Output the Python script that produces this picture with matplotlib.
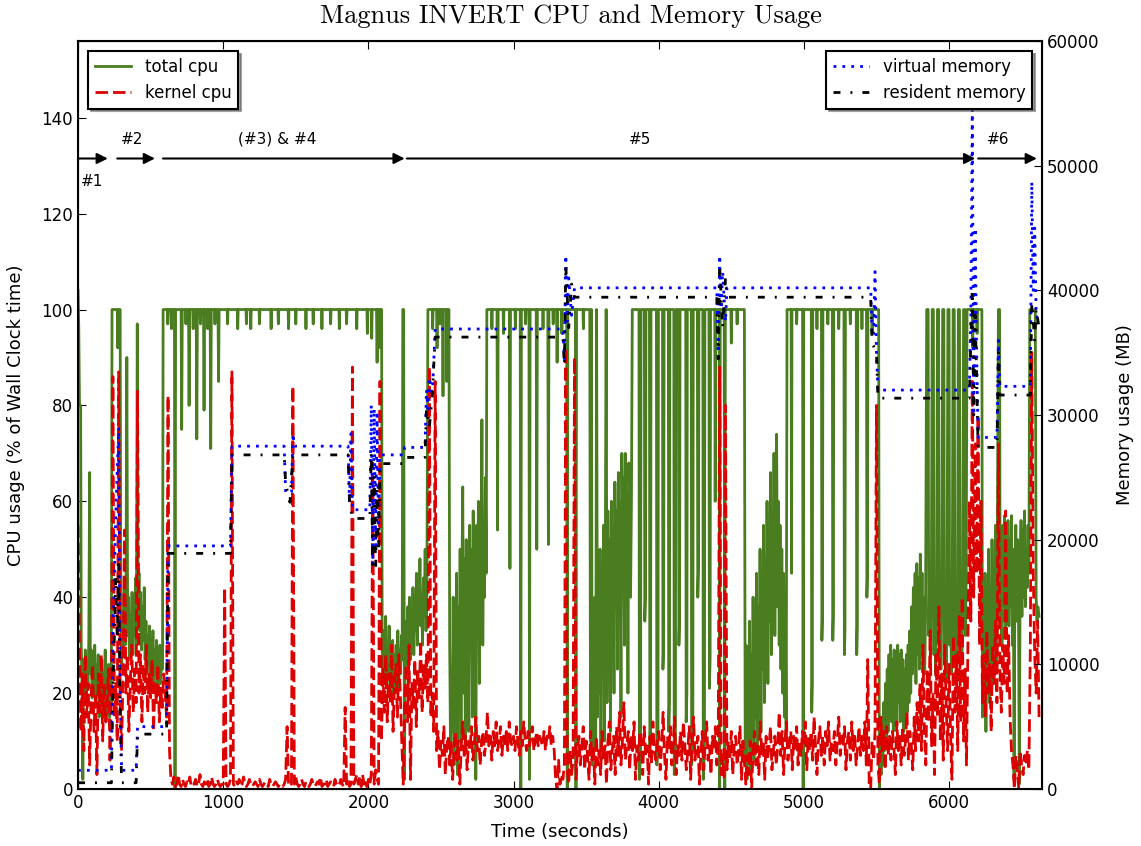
import numpy as np
import matplotlib
matplotlib.use("Agg")
import matplotlib.pyplot as plt

# ---------------------- total cpu: (time s, % of wall clock) ---------------------- #

total_cpu_pts = [
    (0, 104), (5, 96), (10, 80), (18, 80), (22, 30), (28, 22), (33, 2), (38, 27), (44, 20),
    (50, 29), (56, 18), (62, 26), (68, 21), (74, 31), (80, 66), (85, 24), (91, 29), (97, 19),
    (103, 27), (109, 22), (115, 30), (121, 17), (127, 26), (133, 21), (139, 28), (145, 15),
    (151, 25), (157, 19), (163, 27), (169, 16), (175, 24), (181, 20), (187, 29), (193, 14),
    (199, 23), (205, 18), (211, 26), (217, 15), (223, 22), (229, 18),
    (234, 100), (270, 100), (274, 92), (278, 100), (290, 100), (294, 45), (300, 25), (306, 33),
    (312, 28), (318, 42), (324, 30), (330, 38), (336, 90), (342, 32), (348, 40), (354, 27),
    (360, 36), (366, 30), (372, 41), (378, 28), (384, 37), (390, 32), (396, 44), (402, 30),
    (408, 97), (414, 36), (420, 45), (426, 33), (432, 41), (438, 29), (444, 38), (450, 31),
    (456, 42), (462, 27), (468, 35), (474, 24), (480, 32), (486, 26), (492, 34), (498, 22),
    (504, 30), (510, 25), (516, 33), (522, 21), (528, 29), (534, 24), (540, 31), (546, 20),
    (552, 28), (558, 23), (564, 30), (570, 22), (576, 29), (582, 25),
    (586, 100), (615, 100), (618, 97), (621, 100), (640, 100), (643, 96), (646, 100),
    (664, 100), (668, 0), (672, 100), (710, 100), (714, 75), (718, 100), (740, 100),
    (743, 97), (746, 100), (761, 100), (765, 80), (769, 100), (790, 100), (793, 96),
    (796, 100), (814, 100), (818, 73), (822, 100), (840, 100), (843, 97), (846, 100),
    (864, 100), (868, 79), (872, 100), (890, 100), (893, 96), (896, 100), (910, 100),
    (914, 71), (918, 100), (940, 100), (943, 97), (946, 100), (964, 100), (968, 85), (972, 100),
    (1027, 100), (1030, 97), (1033, 100), (1097, 100), (1100, 96), (1103, 100), (1157, 100),
    (1160, 97), (1163, 100), (1187, 100), (1190, 96), (1193, 100), (1247, 100), (1250, 97),
    (1253, 100), (1327, 100), (1330, 96), (1333, 100), (1377, 100), (1380, 97), (1383, 100),
    (1447, 100), (1450, 96), (1453, 100), (1497, 100), (1500, 97), (1503, 100), (1567, 100),
    (1570, 96), (1573, 100), (1617, 100), (1620, 97), (1623, 100), (1677, 100), (1680, 96),
    (1683, 100), (1737, 100), (1740, 97), (1743, 100), (1797, 100), (1800, 96), (1803, 100),
    (1847, 100), (1850, 97), (1853, 100), (1917, 100), (1920, 96), (1923, 100),
    (1990, 100), (1993, 95), (1996, 100), (2020, 100), (2023, 94), (2026, 100), (2056, 100),
    (2060, 89), (2064, 100), (2078, 100), (2082, 92), (2086, 100), (2091, 100),
    (2095, 30), (2101, 22), (2107, 33), (2113, 25), (2119, 36), (2125, 21), (2131, 29),
    (2137, 24), (2143, 34), (2149, 20), (2155, 27), (2161, 23), (2167, 31), (2173, 19),
    (2179, 28), (2185, 22), (2191, 30), (2197, 26), (2203, 33), (2209, 21), (2215, 29),
    (2221, 24), (2227, 32), (2233, 27), (2237, 100), (2243, 100), (2248, 2), (2253, 28),
    (2259, 35), (2265, 26), (2271, 38), (2277, 29), (2283, 40), (2289, 27), (2295, 36),
    (2301, 31), (2307, 42), (2313, 28), (2319, 39), (2325, 33), (2331, 45), (2337, 30),
    (2343, 41), (2349, 35), (2355, 48), (2361, 34), (2367, 40), (2373, 30), (2379, 44),
    (2385, 36), (2391, 50), (2397, 33), (2403, 41),
    (2410, 100), (2440, 100), (2443, 96), (2446, 100), (2470, 100), (2473, 92), (2476, 100),
    (2490, 100), (2493, 97), (2496, 100), (2511, 100), (2514, 82), (2517, 100), (2537, 100),
    (2540, 85), (2543, 100), (2555, 100),
    (2560, 30), (2566, 8), (2572, 25), (2578, 12), (2584, 40), (2590, 5), (2596, 32),
    (2602, 15), (2608, 45), (2614, 3), (2620, 38), (2626, 18), (2632, 50), (2638, 10),
    (2644, 42), (2650, 63), (2656, 20), (2662, 48), (2668, 8), (2674, 52), (2680, 25),
    (2686, 44), (2692, 12), (2698, 55), (2704, 30), (2710, 50), (2716, 15), (2722, 58),
    (2728, 28), (2734, 46), (2740, 2), (2746, 55), (2752, 35), (2758, 60), (2764, 22),
    (2770, 50), (2776, 38), (2782, 77), (2788, 30), (2794, 55), (2800, 40), (2806, 65),
    (2812, 45),
    (2816, 100), (2848, 100), (2851, 96), (2854, 100), (2886, 100), (2890, 54), (2894, 100),
    (2928, 100), (2931, 95), (2934, 100), (2971, 100), (2975, 46), (2979, 100), (3010, 100),
    (3013, 96), (3016, 100), (3046, 100), (3050, 0), (3054, 100), (3080, 100), (3083, 97),
    (3086, 100), (3106, 100), (3110, 2), (3114, 100), (3156, 100), (3160, 50), (3164, 100),
    (3200, 100), (3203, 96), (3206, 100), (3236, 100), (3240, 51), (3244, 100), (3270, 100),
    (3273, 97), (3276, 100), (3296, 100), (3300, 89), (3304, 100), (3330, 100), (3333, 95),
    (3336, 100), (3366, 100), (3370, 0), (3374, 100), (3426, 100), (3430, 0), (3434, 100),
    (3478, 100), (3481, 96), (3484, 100), (3525, 100),
    (3530, 10), (3536, 100), (3542, 5), (3548, 30), (3554, 12), (3560, 40), (3566, 8),
    (3572, 100), (3578, 15), (3584, 45), (3590, 20), (3596, 50), (3602, 6), (3608, 42),
    (3614, 25), (3620, 55), (3626, 10), (3632, 48), (3638, 100), (3644, 18), (3650, 58),
    (3656, 30), (3662, 52), (3668, 12), (3674, 60), (3680, 35), (3686, 55), (3692, 20),
    (3698, 64), (3704, 40), (3710, 58), (3716, 25), (3722, 66), (3728, 45), (3734, 60),
    (3740, 15), (3746, 70), (3752, 50), (3758, 65), (3764, 30), (3770, 70), (3776, 48),
    (3782, 62), (3788, 20), (3794, 68), (3800, 55), (3806, 40), (3812, 60),
    (3818, 100), (3864, 100), (3867, 2), (3875, 8), (3878, 100), (3901, 100), (3904, 35),
    (3909, 40), (3912, 100), (3936, 100), (3939, 8), (3944, 14), (3947, 100), (3984, 100),
    (3987, 5), (3995, 10), (3998, 100), (4026, 100), (4029, 25), (4034, 30), (4037, 100),
    (4066, 100), (4069, 12), (4074, 18), (4077, 100), (4104, 100), (4107, 3), (4115, 9),
    (4118, 100), (4136, 100), (4139, 30), (4144, 36), (4147, 100), (4186, 100), (4189, 14),
    (4194, 20), (4197, 100), (4224, 100), (4227, 5), (4235, 11), (4238, 100), (4266, 100),
    (4269, 40), (4274, 46), (4277, 100), (4304, 100), (4307, 2), (4315, 8), (4318, 100),
    (4346, 100), (4349, 21), (4354, 27), (4357, 100), (4386, 100), (4389, 60), (4392, 100),
    (4416, 100), (4420, 0), (4424, 100), (4451, 100), (4455, 0), (4459, 100), (4497, 100),
    (4500, 93), (4503, 100), (4537, 100), (4540, 97), (4543, 100), (4590, 100),
    (4596, 5), (4602, 30), (4608, 2), (4614, 25), (4620, 10), (4626, 35), (4632, 4),
    (4638, 28), (4644, 12), (4650, 40), (4656, 6), (4662, 33), (4668, 15), (4674, 45),
    (4680, 8), (4686, 38), (4692, 20), (4698, 50), (4704, 12), (4710, 44), (4716, 25),
    (4722, 55), (4728, 18), (4734, 48), (4740, 30), (4746, 60), (4752, 22), (4758, 52),
    (4764, 35), (4770, 66), (4776, 28), (4782, 58), (4788, 40), (4794, 70), (4800, 32),
    (4806, 62), (4812, 74), (4818, 38), (4824, 60), (4830, 30), (4836, 55), (4842, 25),
    (4848, 50), (4854, 20), (4860, 45), (4866, 15), (4872, 40), (4878, 10),
    (4884, 100), (4912, 100), (4915, 45), (4918, 100), (4947, 100), (4950, 97), (4953, 100),
    (4991, 100), (4995, 0), (4999, 100), (5051, 100), (5054, 16), (5058, 22), (5061, 100),
    (5087, 100), (5090, 96), (5093, 100), (5121, 100), (5124, 31), (5128, 36), (5131, 100),
    (5162, 100), (5165, 97), (5168, 100), (5196, 100), (5199, 31), (5203, 36), (5206, 100),
    (5237, 100), (5240, 96), (5243, 100), (5276, 100), (5279, 28), (5283, 33), (5286, 100),
    (5317, 100), (5320, 97), (5323, 100), (5361, 100), (5364, 28), (5368, 34), (5371, 100),
    (5397, 100), (5400, 96), (5403, 100), (5431, 100), (5434, 40), (5438, 45), (5441, 100),
    (5467, 100), (5470, 95), (5473, 100), (5515, 100),
    (5520, 0), (5526, 8), (5532, 3), (5538, 14), (5544, 5), (5550, 18), (5556, 8), (5562, 22),
    (5568, 10), (5574, 25), (5580, 12), (5586, 28), (5592, 15), (5598, 30), (5604, 14),
    (5610, 27), (5616, 12), (5622, 29), (5628, 16), (5634, 26), (5640, 13), (5646, 30),
    (5652, 18), (5658, 28), (5664, 14), (5670, 29), (5676, 17), (5682, 27), (5688, 12),
    (5694, 25), (5700, 14), (5706, 28), (5712, 16), (5718, 30), (5724, 18), (5730, 33),
    (5736, 20), (5742, 38), (5748, 24), (5754, 42), (5760, 26), (5766, 45), (5772, 22),
    (5778, 47), (5784, 28), (5790, 44), (5796, 25), (5802, 49), (5808, 30), (5814, 45),
    (5820, 27), (5826, 40), (5832, 24), (5838, 36),
    (5846, 100), (5856, 100), (5860, 32), (5866, 44), (5872, 26), (5878, 40), (5884, 100),
    (5892, 100), (5896, 28), (5902, 42), (5908, 24), (5914, 38), (5920, 100), (5928, 100),
    (5932, 30), (5938, 45), (5944, 25), (5950, 40), (5956, 100), (5964, 100), (5968, 26),
    (5974, 42), (5980, 22), (5986, 38), (5992, 100), (6000, 100), (6004, 30), (6010, 44),
    (6016, 24), (6022, 40), (6028, 100), (6036, 100), (6040, 28), (6046, 42), (6052, 25),
    (6058, 38), (6064, 100), (6072, 100), (6076, 30), (6082, 45), (6088, 26), (6094, 40),
    (6100, 100), (6108, 100), (6112, 32), (6118, 44), (6124, 100), (6160, 100), (6163, 92),
    (6166, 100), (6190, 100), (6193, 95), (6196, 100), (6226, 100),
    (6230, 15), (6236, 35), (6242, 20), (6248, 45), (6254, 12), (6260, 38), (6266, 25),
    (6272, 50), (6278, 18), (6284, 42), (6290, 28), (6296, 52), (6302, 22), (6308, 45),
    (6314, 30), (6320, 55), (6326, 26), (6332, 48), (6340, 100), (6348, 100), (6352, 35),
    (6358, 52), (6364, 30), (6370, 55), (6376, 38), (6382, 57), (6388, 32), (6394, 50),
    (6400, 40), (6406, 56), (6412, 34), (6418, 52), (6424, 38), (6430, 57), (6436, 30),
    (6442, 50), (6448, 2), (6454, 45), (6460, 55), (6466, 35), (6472, 52), (6478, 40),
    (6484, 1), (6490, 48), (6496, 56), (6502, 36), (6508, 54), (6514, 40), (6520, 58),
    (6526, 38), (6532, 50), (6538, 42), (6544, 55), (6550, 45), (6556, 100), (6594, 100),
    (6600, 40), (6606, 35), (6612, 38), (6620, 36),
]

# ---------------------- kernel cpu: one sample every 10 s ---------------------- #

kernel_cpu = [
    55, 30, 12, 24, 8, 28, 15, 22, 5, 19, 26, 12, 20, 3, 24, 16, 28, 10, 22, 14,
    18, 25, 6, 20, 86, 15, 22, 10, 87, 18, 8, 24, 54, 20, 28, 12, 22, 30, 16, 25,
    18, 83, 20, 28, 14, 26, 20, 30, 16, 24, 19, 27, 12, 22, 18, 26, 14, 21, 17, 24,
    20, 15, 82, 8, 2, 1, 2.5, 0.5, 1, 3, 1, 0.5, 2, 1, 0.5, 1.5, 1, 2.5, 0.5, 1,
    1, 2, 0.5, 1, 3, 1, 0.5, 1.5, 1, 2, 0.5, 1, 2.5, 1, 0.5, 1, 2, 1, 0.5, 1,
    1, 42, 1, 0.5, 1, 2, 87, 1, 0.5, 1.5, 1, 2, 0.5, 1, 2.5, 1, 0.5, 1, 2, 1,
    0.5, 1, 1.5, 1, 0.5, 2, 1, 0.5, 1, 1.5, 1, 0.5, 2, 1, 0.5, 1, 1.5, 1, 0.5, 1,
    1, 0.5, 1, 2, 13, 1, 0.5, 1, 84, 1, 2.5, 1, 0.5, 1, 2, 1, 0.5, 1.5, 1, 0.5,
    1, 2, 1, 0.5, 1, 1.5, 1, 2.5, 0.5, 1, 1, 2, 0.5, 1, 1.5, 1, 0.5, 2, 1, 0.5,
    1, 2, 1, 0.5, 17, 1, 2, 0.5, 1, 88, 1, 2, 3, 1, 2.5, 0.5, 3, 1, 2, 0.5,
    2, 1, 3, 68, 1, 4, 2, 1, 85, 10, 25, 16, 28, 14, 24, 18, 30, 12, 22, 26,
    15, 28, 20, 10, 1, 18, 26, 14, 30, 2, 22, 17, 27, 13, 25, 19, 31, 16, 26, 21,
    28, 18, 88, 15, 20, 12, 85, 8, 12, 4, 10, 7, 13, 3, 9, 11, 5, 10, 2, 8,
    12, 6, 10, 1, 9, 14, 7, 11, 4, 10, 8, 13, 6, 9, 15, 8, 11, 5, 10, 12,
    7, 10, 16, 9, 11, 6, 12, 9, 14, 8, 10, 13, 7, 11, 9, 12, 8, 14, 10, 9,
    11, 8, 13, 10, 7, 12, 9, 14, 10, 8, 12, 9, 11, 13, 8, 10, 12, 9, 11, 10,
    9, 12, 8, 11, 10, 13, 9, 11, 8, 2, 0, 6, 1, 3, 2, 5, 92, 4, 1, 8,
    3, 6, 90, 2, 8, 11, 5, 9, 13, 4, 10, 7, 2, 12, 6, 9, 1, 11, 5, 8,
    3, 12, 6, 9, 1, 10, 14, 4, 8, 11, 3, 13, 7, 16, 5, 10, 18, 6, 9, 12,
    4, 11, 8, 14, 2, 9, 6, 12, 10, 3, 13, 7, 9, 1, 11, 5, 14, 8, 6, 10,
    12, 4, 9, 16, 7, 2, 11, 8, 13, 5, 10, 15, 3, 9, 7, 12, 6, 14, 9, 4,
    8, 13, 2, 10, 15, 6, 9, 11, 1, 7, 12, 4, 10, 14, 6, 9, 3, 11, 8, 13,
    5, 9, 88, 3, 7, 2, 80, 4, 10, 6, 12, 3, 9, 11, 5, 8, 13, 2, 10, 6,
    1, 7, 3, 10, 0, 8, 12, 5, 9, 3, 14, 7, 10, 2, 11, 6, 9, 13, 4, 8,
    11, 5, 9, 16, 7, 12, 3, 10, 14, 6, 9, 12, 4, 11, 8, 13, 5, 10, 7, 12,
    9, 14, 4, 11, 8, 12, 6, 15, 9, 3, 10, 13, 7, 11, 5, 12, 9, 14, 6, 10,
    8, 12, 5, 10, 15, 7, 11, 9, 13, 4, 10, 12, 6, 14, 8, 11, 5, 9, 13, 7,
    11, 8, 14, 5, 27, 1, 0, 10, 6, 12, 80, 5, 1, 15, 8, 12, 4, 13, 7, 11,
    6, 12, 9, 3, 14, 8, 11, 5, 13, 7, 10, 16, 6, 12, 9, 4, 15, 8, 18, 10,
    22, 8, 30, 12, 5, 25, 14, 33, 9, 20, 3, 28, 15, 38, 10, 24, 6, 30, 18, 8,
    26, 12, 2, 32, 16, 28, 8, 36, 14, 40, 10, 25, 5, 30, 60, 35, 85, 40, 72, 45,
    78, 30, 60, 18, 28, 15, 33, 20, 26, 12, 30, 22, 35, 18, 72, 25, 16, 30, 22, 58,
    20, 32, 15, 8, 5, 0, 7, 4, 0, 8, 5, 3, 7, 5, 8, 4, 30, 91, 45, 28,
    20, 35, 15,
]

# ---------------------- Memory samples (time s, MB) ---------------------- #

virt_time = [0, 230, 240, 260, 280, 290, 300, 400, 410, 610, 620, 1050, 1060,
             1420, 1430, 1470, 1480, 1490, 1860, 1870, 1880, 1890, 2010, 2020,
             2030, 2040, 2050, 2060, 2070, 2080, 2240, 2250, 2390, 2400, 2410,
             2420, 2440, 2460, 3340, 3350, 3360, 3370, 3380, 3400, 3420, 4400,
             4410, 4420, 4430, 4440, 4460, 4470, 5460, 5470, 5480, 5490, 5500,
             5510, 6140, 6150, 6160, 6170, 6180, 6190, 6200, 6330, 6340, 6350,
             6560, 6570, 6580, 6590, 6600, 6620]
virt_mem = [1500, 1500, 12000, 22000, 29000, 8000, 1500, 1500, 5000, 5000,
            19500, 19500, 27500, 27500, 23800, 23800, 28500, 27500, 27500,
            23000, 28500, 22400, 22400, 30800, 18000, 30500, 19500, 30000,
            21000, 26800, 26800, 27400, 27400, 32000, 30500, 33000, 31500,
            36900, 36900, 34500, 42800, 37500, 41000, 38000, 40200, 40200,
            35000, 42800, 38500, 41500, 37500, 40200, 40200, 36400, 36400,
            41500, 35000, 32000, 32000, 38000, 54500, 30000, 45000, 35000,
            28200, 28200, 36000, 32300, 32300, 48700, 40000, 45000, 38000,
            37500]

res_time = [0, 230, 240, 260, 270, 280, 290, 300, 400, 410, 610, 620, 1050,
            1060, 1420, 1430, 1460, 1480, 1860, 1870, 1890, 2010, 2020, 2030,
            2040, 2050, 2060, 2070, 2080, 2240, 2250, 2390, 2400, 2420, 2440,
            2460, 3340, 3350, 3360, 3380, 3400, 3420, 4400, 4410, 4420, 4440,
            4460, 4470, 5460, 5470, 5500, 5510, 6140, 6150, 6160, 6170, 6180,
            6190, 6200, 6330, 6340, 6350, 6560, 6570, 6590, 6600, 6620]
res_mem = [500, 500, 8000, 17000, 12000, 18000, 6000, 500, 500, 4400, 4400,
           18900, 18900, 26800, 26800, 24500, 23000, 26800, 26800, 23000,
           21700, 21700, 27000, 18000, 25000, 17500, 24000, 19000, 26100,
           26100, 26600, 26600, 30500, 29000, 31500, 36250, 36250, 34000,
           42000, 37000, 40500, 39450, 39450, 34500, 42000, 37000, 41000,
           39450, 39450, 35800, 35000, 31350, 31350, 36000, 40000, 30000,
           38000, 33000, 27400, 27400, 35000, 31600, 31600, 39000, 36000,
           38500, 37000]

# ---------------------- Phase markers ---------------------- #

phase_spans = [(0, 205), (270, 530), (585, 2250), (2265, 6180), (6200, 6605)]
phase_labels = ['#1', '#2', '(#3) & #4', '#5', '#6']
phase_label_pos = [(100, 126.8), (370, 135.5), (1370, 135.5), (3870, 135.5),
                   (6335, 135.5)]

plt.rcParams['xtick.direction'] = 'in'
plt.rcParams['ytick.direction'] = 'in'
plt.rcParams['xtick.major.size'] = 6
plt.rcParams['ytick.major.size'] = 6

fig = plt.figure(figsize=(11.41, 8.46), dpi=100)
ax1 = fig.add_axes([0.0684, 0.0674, 0.8448, 0.8841])

tc, vc = np.array(total_cpu_pts, dtype=float).T
tk = 10 * np.arange(len(kernel_cpu))
ax1.plot(tc, vc, color='#4a7d1f', lw=2, label='total cpu')
ax1.plot(tk, kernel_cpu, color='#dd0000', lw=2, ls='--', dashes=(4.5, 1.8),
         label='kernel cpu')

ax1.set_xlim(0, 6640)
ax1.set_ylim(0, 156)
ax1.set_xticks(range(0, 7000, 1000))
ax1.set_yticks(range(0, 160, 20))
ax1.tick_params(axis='x', top=True, labelsize=12)
ax1.tick_params(axis='y', labelsize=12)
ax1.set_xlabel('Time (seconds)', fontsize=13, labelpad=8)
ax1.set_ylabel('CPU usage (% of Wall Clock time)', fontsize=13, labelpad=12)
for sp in ax1.spines.values():
    sp.set_linewidth(1.5)

for (x0, x1) in phase_spans:
    ax1.annotate('', xy=(x1, 131.5), xytext=(x0, 131.5),
                 arrowprops=dict(arrowstyle='-|>', color='k', lw=1.5,
                                 mutation_scale=16, shrinkA=0, shrinkB=0))
for lab, (x, y) in zip(phase_labels, phase_label_pos):
    ax1.text(x, y, lab, ha='center', va='center', fontsize=11)

leg1 = ax1.legend(loc='upper left', fancybox=False, shadow=True, fontsize=12,
                  handlelength=2.2, borderaxespad=0.6, framealpha=1)
leg1.get_frame().set_edgecolor('k')
leg1.get_frame().set_linewidth(1.5)

ax2 = ax1.twinx()
ax2.plot(virt_time, virt_mem, color='blue', lw=2, ls=':', dashes=(1, 2.2),
         label='virtual memory')
ax2.plot(res_time, res_mem, color='k', lw=2, ls='-.', dashes=(2.5, 3.6, 0.7, 3.6),
         label='resident memory')
ax2.set_ylim(0, 60000)
ax2.set_yticks(range(0, 70000, 10000))
ax2.tick_params(axis='y', labelsize=12)
ax2.set_ylabel('Memory usage (MB)', fontsize=13, labelpad=12)

leg2 = ax2.legend(loc='upper right', fancybox=False, shadow=True, fontsize=12,
                  handlelength=2.2, borderaxespad=0.6, framealpha=1)
leg2.get_frame().set_edgecolor('k')
leg2.get_frame().set_linewidth(1.5)

fig.text(0.5, 0.981, 'Magnus INVERT CPU and Memory Usage', ha='center',
         va='center', fontsize=19, fontname='cmr10')

fig.savefig('out.png', dpi=100, facecolor='white')
